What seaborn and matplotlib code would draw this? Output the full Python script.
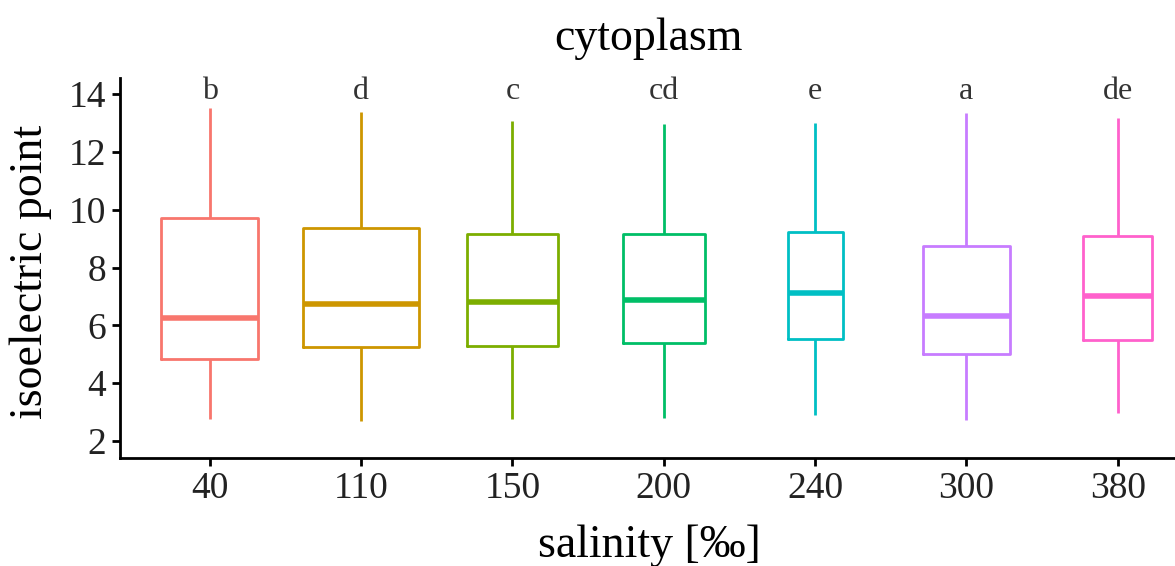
import numpy as np
import pandas as pd
import matplotlib
matplotlib.use("Agg")
import matplotlib.pyplot as plt
import seaborn as sns

# Salinity groups and their box statistics (isoelectric point)
salinity = ["40", "110", "150", "200", "240", "300", "380"]
whisker_low = [2.75, 2.70, 2.77, 2.81, 2.90, 2.73, 2.96]
q1 = [4.84, 5.24, 5.30, 5.39, 5.54, 5.01, 5.49]
median = [6.27, 6.73, 6.81, 6.89, 7.11, 6.31, 7.03]
q3 = [9.71, 9.38, 9.16, 9.15, 9.22, 8.76, 9.10]
whisker_high = [13.53, 13.37, 13.07, 12.97, 12.99, 13.36, 13.19]
group_letters = ["b", "d", "c", "cd", "e", "a", "de"]

# Box widths scale with group size (varwidth-style)
box_widths = [0.643, 0.762, 0.601, 0.544, 0.363, 0.573, 0.454]
colors = ["#F8766D", "#CD9600", "#7CAE00", "#00BE67", "#00BFC4", "#C77CFF", "#FF61CC"]

# Long-form table: five summary points per group reproduce the box exactly
rows = []
for s, lo, a, m, b, hi in zip(salinity, whisker_low, q1, median, q3, whisker_high):
    for v in (lo, a, m, b, hi):
        rows.append({"salinity": s, "pI": v})
df = pd.DataFrame(rows)

sns.set_style("white")
plt.rcParams["font.family"] = ["Liberation Serif", "DejaVu Serif"]

fig = plt.figure(figsize=(11.75, 5.66), dpi=100)
ax = fig.add_axes([120 / 1175, 108 / 566, 1058 / 1175, 380 / 566])

for s, w, c in zip(salinity, box_widths, colors):
    sns.boxplot(
        data=df[df["salinity"] == s], x="salinity", y="pI", order=salinity,
        width=w, color=c, fill=False, linewidth=2.0, whis=(0, 100),
        showcaps=False, showfliers=False,
        medianprops={"linewidth": 4.0}, ax=ax,
    )

for i, letter in enumerate(group_letters):
    ax.text(i, 13.83, letter, ha="center", va="baseline",
            fontsize=23, color="#333333")

ax.set_xlim(-0.593, 6.398)
ax.set_ylim(1.41, 14.56)
ax.set_yticks([2, 4, 6, 8, 10, 12, 14])

for side in ("top", "right"):
    ax.spines[side].set_visible(False)
for side in ("left", "bottom"):
    ax.spines[side].set_linewidth(2.0)
    ax.spines[side].set_color("black")

ax.tick_params(axis="both", which="major", direction="out", length=6,
               width=2.0, color="black", labelsize=27, labelcolor="#222222",
               pad=4, bottom=True, left=True)

ax.set_xlabel("salinity [‰]", fontsize=33, color="black")
ax.set_ylabel("isoelectric point", fontsize=33, color="black")
ax.xaxis.set_label_coords(0.5, -0.175)
ax.yaxis.set_label_coords(-0.064, 0.49)
ax.set_title("cytoplasm", fontsize=33, color="black", pad=20)

fig.savefig("out.png", dpi=100, facecolor="white")
